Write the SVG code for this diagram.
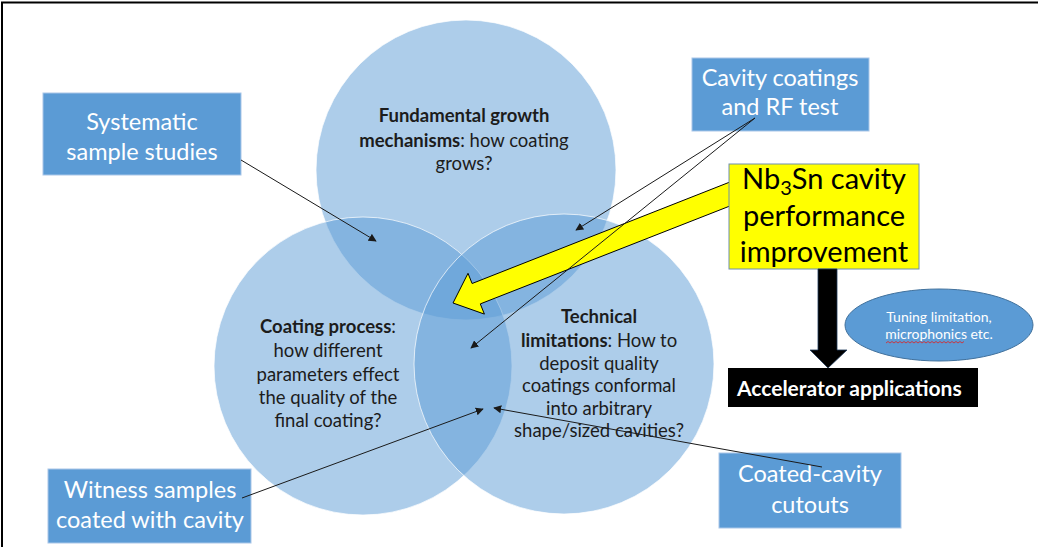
<svg xmlns="http://www.w3.org/2000/svg" width="1038" height="547" viewBox="0 0 1038 547">
  <defs>
    <marker id="arrow" viewBox="0 0 10 10" refX="9" refY="5" markerWidth="8" markerHeight="8" markerUnits="userSpaceOnUse" orient="auto">
      <path d="M0,0 L10,5 L0,10 z" fill="#1a1a1a"/>
    </marker>
    <style>
      .circle { fill: #5b9bd5; fill-opacity: 0.5; stroke: #ffffff; stroke-opacity: 0.7; stroke-width: 1; }
      .box { fill: #5b9bd5; stroke: #a9c6e8; stroke-width: 1; }
      .boxtext { font-family: Lato, "Liberation Sans", sans-serif; font-size: 23.5px; fill: #ffffff; text-anchor: middle; }
      .ctext { font-family: Lato, "Liberation Sans", sans-serif; font-size: 18.5px; fill: #1c1c1c; text-anchor: middle; }
      .b { font-weight: bold; }
      .conn { stroke: #1a1a1a; stroke-width: 1; fill: none; marker-end: url(#arrow); }
      .ytext { font-family: Lato, "Liberation Sans", sans-serif; font-size: 29px; fill: #000000; text-anchor: middle; }
      .etext { font-family: Lato, "Liberation Sans", sans-serif; font-size: 14px; fill: #ffffff; text-anchor: middle; }
    </style>
  </defs>

  <rect width="1038" height="547" fill="#ffffff"/>
  <!-- page frame -->
  <path d="M2,547 V2.5 H1038" fill="none" stroke="#000000" stroke-width="2"/>

  <!-- Venn circles -->
  <g id="circle-growth">
    <circle class="circle" cx="466" cy="170" r="150"/>
    <text class="ctext" x="464" y="122"><tspan class="b">Fundamental growth</tspan></text>
    <text class="ctext" x="464" y="147"><tspan class="b">mechanisms</tspan>: how coating</text>
    <text class="ctext" x="464" y="170">grows?</text>
  </g>
  <g id="circle-process">
    <circle class="circle" cx="363" cy="366" r="149"/>
    <text class="ctext" x="328" y="333"><tspan class="b">Coating process</tspan>:</text>
    <text class="ctext" x="328" y="357">how different</text>
    <text class="ctext" x="328" y="381">parameters effect</text>
    <text class="ctext" x="328" y="404">the quality of the</text>
    <text class="ctext" x="328" y="427">final coating?</text>
  </g>
  <g id="circle-limitations">
    <circle class="circle" cx="564" cy="364" r="150"/>
    <text class="ctext" x="599" y="323"><tspan class="b">Technical</tspan></text>
    <text class="ctext" x="599" y="347"><tspan class="b">limitations</tspan>: How to</text>
    <text class="ctext" x="599" y="370">deposit quality</text>
    <text class="ctext" x="599" y="392">coatings conformal</text>
    <text class="ctext" x="599" y="415">into arbitrary</text>
    <text class="ctext" x="599" y="437">shape/sized cavities?</text>
  </g>

  <!-- big yellow block arrow -->
  <g id="yellow-arrow">
    <polygon points="453,303 468,273.3 472.1,283.5 735,180 735,204 480.3,303.9 484.4,314.1" fill="#ffff00" stroke="#000000" stroke-width="1"/>
  </g>

  <!-- side boxes -->
  <g id="systematic">
    <rect class="box" x="43" y="93" width="198" height="82"/>
    <text class="boxtext" x="142" y="130">Systematic</text>
    <text class="boxtext" x="142" y="160">sample studies</text>
  </g>
  <g id="cavity-rf">
    <rect class="box" x="692" y="58" width="177" height="73"/>
    <text class="boxtext" x="780" y="86">Cavity coatings</text>
    <text class="boxtext" x="780" y="115">and RF test</text>
  </g>
  <g id="witness">
    <rect class="box" x="48" y="469" width="203" height="74"/>
    <text class="boxtext" x="150" y="498">Witness samples</text>
    <text class="boxtext" x="150" y="528">coated with cavity</text>
  </g>
  <g id="cutouts">
    <rect class="box" x="719" y="453" width="182" height="75"/>
    <text class="boxtext" x="810" y="482">Coated-cavity</text>
    <text class="boxtext" x="810" y="513">cutouts</text>
  </g>

  <g id="nb3sn">
    <rect x="729" y="164" width="190" height="105" fill="#ffff00" stroke="#6f8fae" stroke-width="1"/>
    <text class="ytext" x="824" y="189">Nb<tspan font-size="20" dy="6">3</tspan><tspan dy="-6">Sn cavity</tspan></text>
    <text class="ytext" x="824" y="226">performance</text>
    <text class="ytext" x="824" y="262">improvement</text>
  </g>

  <!-- black down arrow -->
  <g id="down-arrow">
    <polygon points="818,269 837,269 837,350 847,350 828,368 810,350 818,350" fill="#000000" stroke="#1f3a5a" stroke-width="0.8"/>
  </g>

  <g id="accelerator">
    <rect x="728" y="368" width="250" height="39" fill="#000000"/>
    <text x="737" y="396" font-family="Lato, 'Liberation Sans', sans-serif" font-size="21px" font-weight="bold" fill="#ffffff">Accelerator applications</text>
  </g>

  <g id="tuning">
    <ellipse cx="939" cy="325" rx="94" ry="36" fill="#5b9bd5" stroke="#41719c" stroke-width="1"/>
    <text class="etext" x="939" y="322">Tuning limitation,</text>
    <text class="etext" x="939" y="339">microphonics etc.</text>
    <!-- spell-check squiggle under "microphonics" -->
    <path d="M886,343 l2,-1.5 l2,1.5 l2,-1.5 l2,1.5 l2,-1.5 l2,1.5 l2,-1.5 l2,1.5 l2,-1.5 l2,1.5 l2,-1.5 l2,1.5 l2,-1.5 l2,1.5 l2,-1.5 l2,1.5 l2,-1.5 l2,1.5 l2,-1.5 l2,1.5 l2,-1.5 l2,1.5 l2,-1.5 l2,1.5 l2,-1.5 l2,1.5 l2,-1.5 l2,1.5 l2,-1.5 l2,1.5 l2,-1.5 l2,1.5 l2,-1.5 l2,1.5 l2,-1.5 l2,1.5 l2,-1.5 l2,1.5 l2,-1.5" fill="none" stroke="#e02020" stroke-width="0.8"/>
  </g>

  <!-- connectors -->
  <g id="connectors">
    <line class="conn" x1="241" y1="160" x2="376" y2="241"/>
    <line class="conn" x1="755" y1="118" x2="576" y2="230"/>
    <line class="conn" x1="755" y1="118" x2="471" y2="348"/>
    <line class="conn" x1="242" y1="498" x2="483" y2="409"/>
    <line class="conn" x1="822" y1="467" x2="494" y2="408"/>
  </g>
</svg>
